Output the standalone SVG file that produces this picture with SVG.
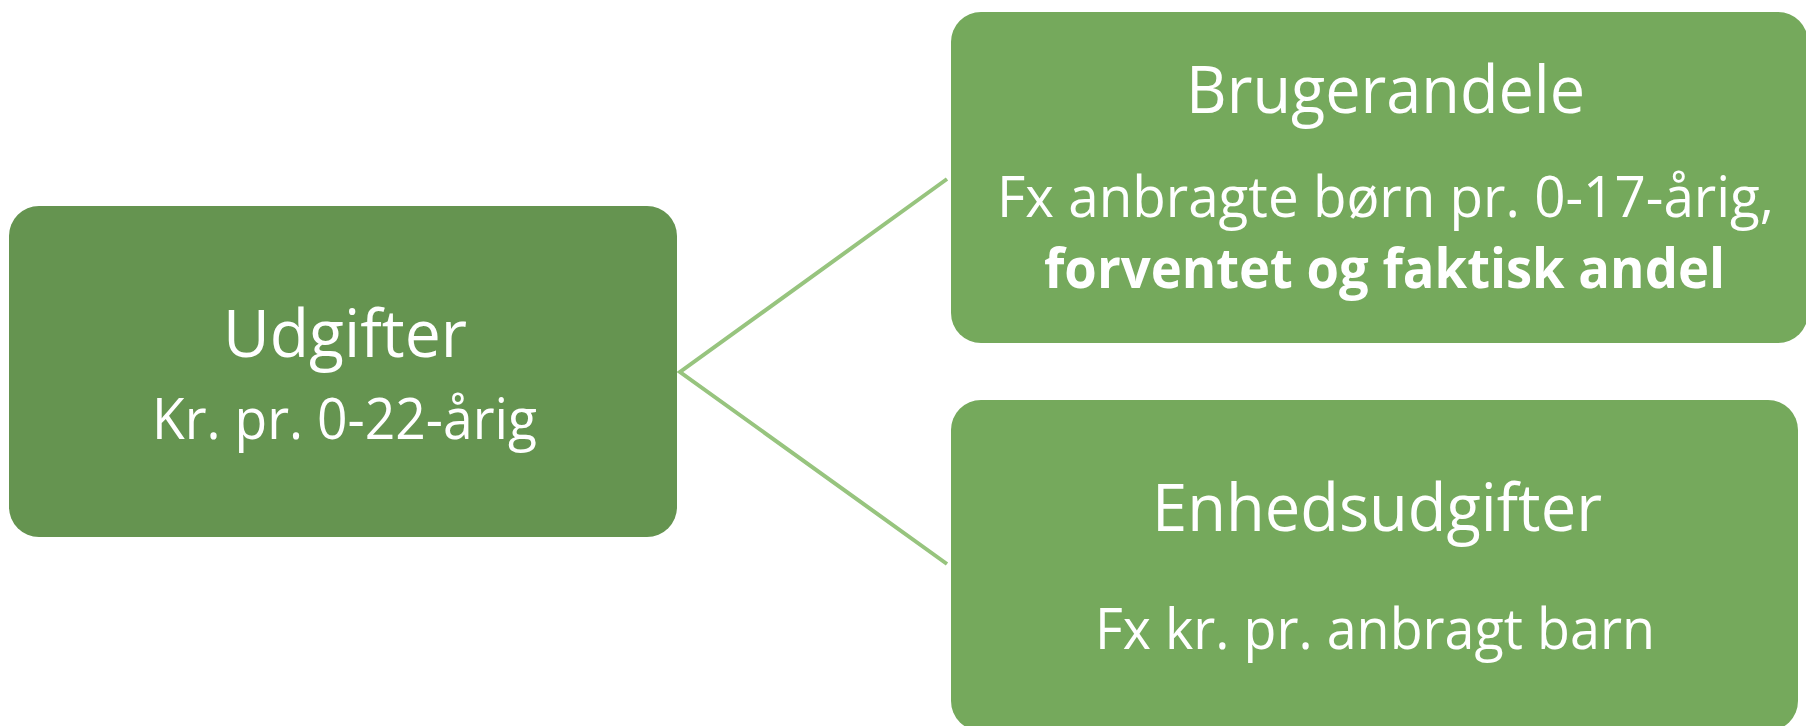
<svg xmlns="http://www.w3.org/2000/svg" width="1806" height="726" viewBox="0 0 1806 726">
<style>
.box-dark{fill:#659450}
.box{fill:#75A95C}
.conn{stroke:#97C47E;stroke-width:4;fill:none}
.t{fill:#ffffff;font-family:"Open Sans","Noto Sans","Liberation Sans",sans-serif}
.title{font-size:65px}
.sub{font-size:56px}
.bold{font-weight:bold}
</style>
<rect width="1806" height="726" fill="#ffffff"/>
<g id="connectors">
<polyline class="conn" points="947,179 680,372 947,564"/>
</g>
<g id="node-udgifter">
<rect class="box-dark" x="9" y="206" width="668" height="331" rx="30" ry="30"/>
<text class="t title" x="223" y="357" textLength="244" lengthAdjust="spacingAndGlyphs">Udgifter</text>
<text class="t sub" x="152" y="439" textLength="385" lengthAdjust="spacingAndGlyphs">Kr. pr. 0-22-årig</text>
</g>
<g id="node-brugerandele">
<rect class="box" x="951" y="12" width="857" height="331" rx="30" ry="30"/>
<text class="t title" x="1186" y="113" textLength="399" lengthAdjust="spacingAndGlyphs">Brugerandele</text>
<text class="t sub" x="997" y="217" textLength="777" lengthAdjust="spacingAndGlyphs">Fx anbragte børn pr. 0-17-årig,</text>
<text class="t sub bold" x="1044" y="288" textLength="681" lengthAdjust="spacingAndGlyphs">forventet og faktisk andel</text>
</g>
<g id="node-enhedsudgifter">
<rect class="box" x="951" y="400" width="847" height="331" rx="30" ry="30"/>
<text class="t title" x="1152" y="531" textLength="450" lengthAdjust="spacingAndGlyphs">Enhedsudgifter</text>
<text class="t sub" x="1095" y="649" textLength="560" lengthAdjust="spacingAndGlyphs">Fx kr. pr. anbragt barn</text>
</g>
</svg>
